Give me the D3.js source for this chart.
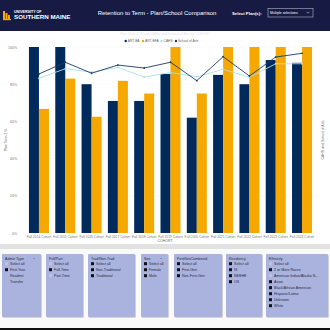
<!DOCTYPE html>
<html>
<head>
<meta charset="utf-8">
<script src="https://cdn.jsdelivr.net/npm/d3@7"></script>
<style>
  body { margin: 0; background: #fff; }
  svg { display: block; font-family: "Liberation Sans", Arial, sans-serif; }
</style>
</head>
<body>
<svg id="chart" width="330" height="330"></svg>
<script>
const cohorts = ["Fall 2014 Cohort", "Fall 2015 Cohort", "Fall 2016 Cohort", "Fall 2017 Cohort",
  "Fall 2018 Cohort", "Fall 2019 Cohort", "Fall 2020 Cohort", "Fall 2021 Cohort",
  "Fall 2022 Cohort", "Fall 2023 Cohort", "Fall 2024 Cohort"];
const artBA = [1.00, 1.00, 0.80, 0.71, 0.71, 0.855, 0.62, 0.85, 0.80, 0.93, 0.915];
const artBFA = [0.667, 0.83, 0.625, 0.818, 0.75, 1.00, 0.75, 1.00, 1.00, 1.00, 1.00];
const cahs = [0.832, 0.883, 0.865, 0.89, 0.838, 0.863, 0.84, 0.88, 0.837, 0.91, 0.91];
const schoolArts = [0.855, 0.918, 0.859, 0.903, 0.887, 0.918, 0.819, 0.948, 0.844, 0.946, 0.966];
const yTicks = [0, 0.2, 0.4, 0.6, 0.8, 1.0];
const legendItems = ["ART-BA", "ART-BFA", "CAHS", "School of Arts"];

const slicers = [
  { title: "Admin Type", chevron: true, items: [["Select all", 0], ["First Year", 1], ["Readmit", -1], ["Transfer", -1]] },
  { title: "Full/Part", items: [["Select all", 0], ["Full-Time", 1], ["Part-Time", 0]] },
  { title: "Trad/Non-Trad", items: [["Select all", 1], ["Non-Traditional", 1], ["Traditional", 1]] },
  { title: "Sex", chevron: true, items: [["Select all", 1], ["Female", 1], ["Male", 1]] },
  { title: "FirstGenCombined", items: [["Select all", 1], ["First-Gen", 1], ["Non-First-Gen", 1]] },
  { title: "Residency", items: [["Select all", 1], ["IS", 1], ["NEBHE", 1], ["OS", 1]] },
  { title: "Ethnicity", items: [["Select all", 0], ["2 or More Races", 1], ["American Indian/Alaska N...", 0],
    ["Asian", 1], ["Black/African American", 1], ["Hispanic/Latino", 1], ["Unknown", 1], ["White", 1]] }
];
const slicerX = [[2, 41], [46, 83], [88, 135], [141, 168], [174, 222], [226, 262], [266, 328]];

const colors = { ba: "#002a5c", bfa: "#f5a800", cahs: "#a9e1ea", arts: "#1d3a6b" };

const svg = d3.select("#chart");

// header
svg.append("rect").attr("width", 330).attr("height", 31).attr("fill", "#171b43");
const logo = svg.append("g").attr("transform", "translate(3,9)");
logo.append("rect").attr("x", 0).attr("y", 2).attr("width", 2).attr("height", 9).attr("fill", "#f5a800");
logo.append("rect").attr("x", 2.5).attr("y", 4).attr("width", 2).attr("height", 7).attr("fill", "#f5a800");
logo.append("rect").attr("x", 5).attr("y", 6).attr("width", 2).attr("height", 5).attr("fill", "#f5a800");
logo.append("rect").attr("x", 0).attr("y", 10).attr("width", 8).attr("height", 1.2).attr("fill", "#f5a800");
logo.append("text").attr("x", 11).attr("y", 3.5).attr("fill", "#fff").attr("font-size", 3.6)
  .attr("font-weight", "bold").text("UNIVERSITY OF");
logo.append("text").attr("x", 11).attr("y", 10).attr("fill", "#fff").attr("font-size", 6.2)
  .attr("font-weight", "bold").text("SOUTHERN MAINE");

svg.append("text").attr("x", 157).attr("y", 15).attr("text-anchor", "middle")
  .attr("fill", "#fff").attr("font-size", 6).text("Retention to Term - Plan/School Comparison");
svg.append("text").attr("x", 232).attr("y", 14.5).attr("fill", "#fff").attr("font-size", 4.3)
  .attr("font-weight", "bold").text("Select Plan(s):");
svg.append("rect").attr("x", 268).attr("y", 8.5).attr("width", 45).attr("height", 8.5)
  .attr("fill", "none").attr("stroke", "#d0d4e4").attr("stroke-width", 0.5);
svg.append("text").attr("x", 270).attr("y", 14.3).attr("fill", "#fff").attr("font-size", 3.4)
  .text("Multiple selections");
svg.append("path").attr("d", "M306.5,11.8 L308,13.3 L309.5,11.8").attr("fill", "none")
  .attr("stroke", "#fff").attr("stroke-width", 0.5);

// chart
const y = d3.scaleLinear().domain([0, 1]).range([233, 47]);
const x = d3.scaleBand().domain(cohorts).range([23.7, 317.3]).paddingInner(0.24).paddingOuter(0.2);
const x1 = d3.scaleBand().domain(["ba", "bfa"]).range([0, x.bandwidth()]);

svg.append("text").attr("x", 165).attr("y", 35).attr("text-anchor", "middle")
  .attr("fill", "#e4e4e4").attr("font-size", 3.5).text("Plan Term 2 % and CAHS and School of Arts by COHORT");

const grid = svg.append("g");
grid.selectAll("line").data(yTicks).join("line")
  .attr("x1", 23).attr("x2", 318)
  .attr("y1", d => y(d)).attr("y2", d => y(d))
  .attr("stroke", "#ececec").attr("stroke-width", 0.4).attr("stroke-dasharray", "1,1");

const yAxis = svg.append("g").attr("transform", "translate(20,0)")
  .call(d3.axisLeft(y).tickValues(yTicks).tickFormat(d3.format(".0%")).tickSize(0));
yAxis.select(".domain").remove();
yAxis.selectAll("text").attr("font-size", 3.5).attr("fill", "#777").attr("font-family", "Liberation Sans, Arial");

const groups = svg.append("g").selectAll("g").data(cohorts).join("g")
  .attr("transform", d => `translate(${x(d)},0)`);
groups.append("rect")
  .attr("x", x1("ba")).attr("width", x1.bandwidth())
  .attr("y", (d, i) => y(artBA[i])).attr("height", (d, i) => y(0) - y(artBA[i]))
  .attr("fill", colors.ba);
groups.append("rect")
  .attr("x", x1("bfa")).attr("width", x1.bandwidth())
  .attr("y", (d, i) => y(artBFA[i])).attr("height", (d, i) => y(0) - y(artBFA[i]))
  .attr("fill", colors.bfa);

const line = d3.line().x((d, i) => x(cohorts[i]) + x.bandwidth() / 2).y(d => y(d));
[[cahs, colors.cahs], [schoolArts, colors.arts]].forEach(([vals, c]) => {
  svg.append("path").datum(vals).attr("d", line).attr("fill", "none")
    .attr("stroke", c).attr("stroke-width", 0.9);
  svg.append("g").selectAll("circle").data(vals).join("circle")
    .attr("cx", (d, i) => x(cohorts[i]) + x.bandwidth() / 2).attr("cy", d => y(d))
    .attr("r", 0.9).attr("fill", c);
});

const xAxis = svg.append("g").attr("transform", "translate(0,233)")
  .call(d3.axisBottom(x).tickSize(0).tickPadding(2.5));
xAxis.select(".domain").remove();
xAxis.selectAll("text").attr("font-size", 3.3).attr("fill", "#777").attr("font-family", "Liberation Sans, Arial");

svg.append("text").attr("x", 165).attr("y", 241.5).attr("text-anchor", "middle")
  .attr("fill", "#666").attr("font-size", 3.5).text("COHORT");
svg.append("text").attr("transform", "translate(7,140) rotate(-90)").attr("text-anchor", "middle")
  .attr("fill", "#666").attr("font-size", 3.5).text("Plan Term 2 %");
svg.append("text").attr("transform", "translate(324,140) rotate(-90)").attr("text-anchor", "middle")
  .attr("fill", "#666").attr("font-size", 3.5).text("CAHS and School of Arts");

// legend
const legendX = [125.7, 143, 161.5, 176];
const legendColors = [colors.ba, colors.bfa, colors.cahs, colors.arts];
const lg = svg.append("g").selectAll("g").data(legendItems).join("g")
  .attr("transform", (d, i) => `translate(${legendX[i]},41)`);
lg.append("circle").attr("r", 1.2).attr("fill", (d, i) => legendColors[i]);
lg.append("text").attr("x", 2).attr("y", 1.2).attr("font-size", 3.3).attr("fill", "#666").text(d => d);

// separator
svg.append("rect").attr("x", 0).attr("y", 244).attr("width", 330).attr("height", 5).attr("fill", "#e2e2e2");
svg.append("rect").attr("x", 0).attr("y", 249).attr("width", 330).attr("height", 79).attr("fill", "#fafafa");
svg.append("rect").attr("x", 0).attr("y", 328).attr("width", 330).attr("height", 2).attr("fill", "#111");

// slicers
slicers.forEach((s, k) => {
  const [x0, x1s] = slicerX[k];
  const g = svg.append("g").attr("transform", `translate(${x0},254)`);
  g.append("rect").attr("x", 0.8).attr("y", 0.8).attr("width", x1s - x0).attr("height", 63)
    .attr("fill", "#c4c6d2").attr("rx", 1);
  g.append("rect").attr("width", x1s - x0).attr("height", 63).attr("fill", "#a9b3dd").attr("rx", 1);
  g.append("text").attr("x", 3).attr("y", 5.5).attr("font-size", 3.6).attr("fill", "#2a2a40").text(s.title);
  if (s.chevron) {
    g.append("path").attr("d", `M${x1s - x0 - 8},4 L${x1s - x0 - 7},5 L${x1s - x0 - 6},4`)
      .attr("fill", "none").attr("stroke", "#556").attr("stroke-width", 0.4);
  }
  s.items.forEach(([label, state], j) => {
    const yy = 11 + j * 6;
    if (state === 1) {
      g.append("rect").attr("x", 3).attr("y", yy - 2.8).attr("width", 3).attr("height", 3).attr("fill", "#111");
    } else if (state === 0) {
      g.append("rect").attr("x", 3).attr("y", yy - 2.8).attr("width", 3).attr("height", 3).attr("fill", "#bcc4e6");
    }
    g.append("text").attr("x", 8).attr("y", yy).attr("font-size", 3.6).attr("fill", "#2a2a40").text(label);
  });
});
</script>
</body>
</html>
